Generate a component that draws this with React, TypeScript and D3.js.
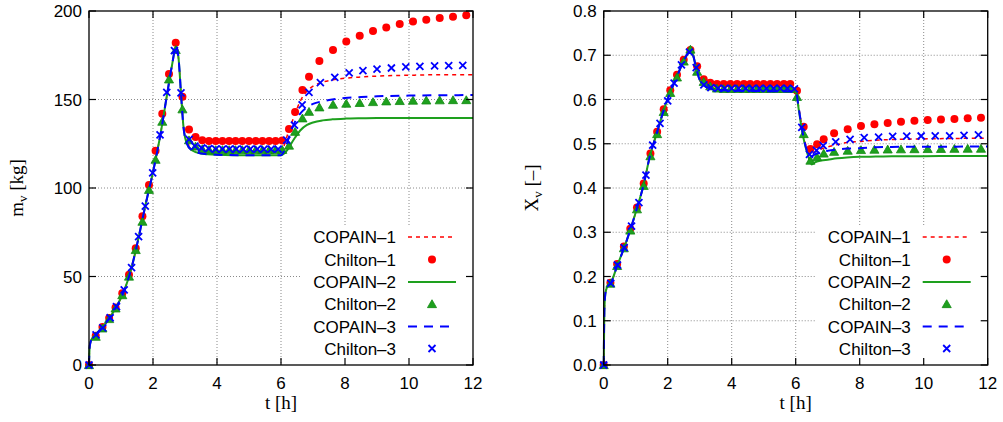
import React from 'react';
import * as d3 from 'd3';

// ---------- tick labels ----------
const xTicks = [0, 2, 4, 6, 8, 10, 12];
const leftYTicks = [0, 50, 100, 150, 200];
const rightYTicks = [0, 0.1, 0.2, 0.3, 0.4, 0.5, 0.6, 0.7, 0.8];
const seriesNames = ['COPAIN–1', 'Chilton–1', 'COPAIN–2', 'Chilton–2', 'COPAIN–3', 'Chilton–3'];

// ---------- left panel: m_v [kg] ----------
const copainT_L = [0, 0.02, 0.05, 0.1, 0.22, 0.43, 0.66, 0.86, 1.1, 1.33, 1.55, 1.76, 2.0, 2.24, 2.45, 2.6, 2.72, 2.8, 2.88, 2.95, 3.05, 3.2, 3.5, 4.0, 5.0, 6.0, 6.1, 6.2, 6.3, 6.44, 6.6, 6.8, 7.0, 7.3, 7.6, 8.0, 8.5, 9.0, 10.0, 11.0, 12.0];
const copain1_L = [0, 10, 13, 15, 17.5, 21.5, 27, 33, 42, 55, 72, 90, 109, 131, 154, 170, 180, 173, 152, 135, 126.5, 123, 121, 120.5, 120.3, 120.3, 124, 130, 135, 142, 149, 154.5, 157.5, 159.8, 161, 162, 162.7, 163.2, 163.7, 164, 164];
const copain2_L = [0, 10, 13, 15, 17.5, 21.5, 27, 33, 42, 55, 72, 90, 109, 131, 154, 170, 180, 173, 152, 135, 125.5, 121.5, 119.5, 118.8, 118.5, 118.5, 119.5, 121.5, 124.5, 128.5, 132.5, 135.5, 137, 138.2, 138.8, 139.2, 139.4, 139.5, 139.6, 139.6, 139.6];
const copain3_L = [0, 10, 13, 15, 17.5, 21.5, 27, 33, 42, 55, 72, 90, 109, 131, 154, 170, 180, 173, 152, 135, 125.5, 121.5, 119.5, 118.8, 118.5, 118.5, 121, 126, 131.5, 137.5, 142, 145.5, 147.5, 149, 150, 150.9, 151.4, 151.8, 152.2, 152.4, 152.5];

const chiltonT12_L = [0, 0.21, 0.42, 0.63, 0.83, 1.04, 1.25, 1.46, 1.67, 1.875, 2.08, 2.29, 2.5, 2.71, 2.92, 3.125, 3.33, 3.54, 3.75, 3.96, 4.17, 4.38, 4.58, 4.79, 5.0, 5.21, 5.42, 5.63, 5.83, 6.04, 6.25, 6.44, 6.67, 6.875, 7.2, 7.625, 8.04, 8.46, 8.875, 9.29, 9.71, 10.125, 10.54, 10.96, 11.375, 11.79];
const chilton1_L = [0, 16.5, 21.5, 26.5, 32.5, 40.5, 51, 66, 84, 101.7, 121, 142, 164.4, 182, 151.5, 133, 128.8, 127, 126.6, 126.5, 126.5, 126.5, 126.5, 126.5, 126.5, 126.5, 126.5, 126.5, 126.5, 126.8, 133.3, 143, 155.4, 162.9, 171.8, 178, 182.7, 186, 188.7, 190.7, 192.7, 194, 195.1, 196, 196.8, 197.6];
const chilton2_L = [0, 16, 20.7, 26, 32, 39.5, 50, 65, 81, 99, 116, 137.5, 161.4, 178, 144.5, 127, 123.5, 122, 121.6, 121.5, 121.5, 121.5, 121.5, 121.5, 121.5, 121.5, 121.5, 121.5, 121.5, 121.6, 124, 131.8, 139.4, 143.1, 145.6, 147.1, 147.7, 148.1, 148.6, 149, 149.2, 149.4, 149.5, 149.6, 149.7, 149.7];
const chiltonT3_L = [0, 0.22, 0.43, 0.66, 0.86, 1.1, 1.33, 1.55, 1.76, 1.99, 2.22, 2.43, 2.67, 2.875, 3.13, 3.31, 3.52, 3.74, 3.96, 4.17, 4.39, 4.6, 4.82, 5.04, 5.26, 5.47, 5.69, 5.91, 6.18, 6.42, 6.66, 6.875, 7.23, 7.68, 8.13, 8.56, 9.0, 9.45, 9.9, 10.34, 10.8, 11.24, 11.68];
const chilton3_L = [0, 17, 21, 26.7, 33, 42.4, 55, 72.5, 89.8, 108.5, 130, 154, 177.6, 153.8, 127.5, 123.7, 122.6, 122.2, 122, 122, 122, 122, 122, 122, 122, 122, 122, 122, 127, 135.5, 147, 154, 159.5, 162.5, 165.1, 166.3, 167.2, 167.8, 168.4, 168.7, 169, 169.1, 169.3];

// ---------- right panel: X_v [-] ----------
const copainT_R = [0, 0.02, 0.05, 0.1, 0.22, 0.43, 0.64, 0.82, 1.03, 1.24, 1.45, 1.66, 1.86, 2.07, 2.28, 2.49, 2.62, 2.7, 2.78, 2.88, 2.98, 3.1, 3.3, 3.6, 4.0, 5.0, 6.0, 6.1, 6.2, 6.3, 6.4, 6.5, 6.6, 6.8, 7.0, 7.3, 7.6, 8.0, 8.5, 9.0, 10.0, 11.0, 12.0];
const copain1_R = [0, 0.12, 0.16, 0.175, 0.185, 0.226, 0.265, 0.303, 0.352, 0.405, 0.474, 0.524, 0.572, 0.615, 0.65, 0.686, 0.703, 0.71, 0.703, 0.675, 0.648, 0.634, 0.626, 0.622, 0.62, 0.619, 0.619, 0.58, 0.536, 0.502, 0.483, 0.479, 0.481, 0.488, 0.493, 0.498, 0.503, 0.505, 0.508, 0.5095, 0.511, 0.512, 0.5125];
const copain2_R = [0, 0.12, 0.16, 0.175, 0.185, 0.226, 0.265, 0.303, 0.352, 0.405, 0.474, 0.524, 0.572, 0.615, 0.65, 0.686, 0.703, 0.71, 0.703, 0.675, 0.648, 0.634, 0.626, 0.622, 0.62, 0.619, 0.618, 0.575, 0.528, 0.495, 0.47, 0.453, 0.458, 0.462, 0.464, 0.467, 0.469, 0.4705, 0.471, 0.4715, 0.472, 0.4722, 0.4723];
const copain3_R = [0, 0.12, 0.16, 0.175, 0.185, 0.226, 0.265, 0.303, 0.352, 0.405, 0.474, 0.524, 0.572, 0.615, 0.65, 0.686, 0.703, 0.71, 0.703, 0.675, 0.648, 0.634, 0.626, 0.622, 0.62, 0.619, 0.618, 0.578, 0.532, 0.497, 0.477, 0.472, 0.476, 0.481, 0.484, 0.487, 0.489, 0.49, 0.492, 0.4928, 0.4933, 0.4935, 0.4937];

const chiltonT12_R = [0, 0.21, 0.42, 0.63, 0.83, 1.04, 1.25, 1.46, 1.67, 1.875, 2.08, 2.29, 2.5, 2.71, 2.92, 3.125, 3.33, 3.54, 3.75, 3.96, 4.17, 4.38, 4.58, 4.79, 5.0, 5.21, 5.42, 5.63, 5.83, 6.04, 6.25, 6.46, 6.67, 6.875, 7.2, 7.625, 8.04, 8.46, 8.875, 9.29, 9.71, 10.125, 10.54, 10.96, 11.375, 11.79];
const chilton1_R = [0, 0.186, 0.228, 0.268, 0.308, 0.356, 0.41, 0.478, 0.527, 0.578, 0.621, 0.656, 0.69, 0.712, 0.675, 0.646, 0.638, 0.635, 0.635, 0.635, 0.635, 0.635, 0.635, 0.635, 0.635, 0.635, 0.635, 0.635, 0.635, 0.62, 0.5386, 0.488, 0.499, 0.51, 0.5236, 0.5326, 0.54, 0.544, 0.547, 0.55, 0.552, 0.5537, 0.555, 0.556, 0.5575, 0.559];
const chilton2_R = [0, 0.184, 0.224, 0.264, 0.304, 0.352, 0.405, 0.472, 0.522, 0.572, 0.615, 0.65, 0.686, 0.713, 0.663, 0.64, 0.63, 0.625, 0.624, 0.624, 0.624, 0.624, 0.624, 0.624, 0.624, 0.624, 0.624, 0.624, 0.624, 0.606, 0.522, 0.462, 0.47, 0.478, 0.482, 0.4845, 0.486, 0.4868, 0.4873, 0.4877, 0.488, 0.4883, 0.4886, 0.4888, 0.489, 0.489];
const chiltonT3_R = [0, 0.22, 0.43, 0.64, 0.87, 1.1, 1.32, 1.53, 1.76, 2.0, 2.2, 2.43, 2.68, 2.89, 3.13, 3.35, 3.57, 3.78, 4.0, 4.22, 4.44, 4.65, 4.87, 5.09, 5.31, 5.52, 5.74, 5.96, 6.19, 6.43, 6.65, 6.86, 7.25, 7.7, 8.14, 8.59, 9.03, 9.47, 9.92, 10.36, 10.81, 11.26, 11.71];
const chilton3_R = [0, 0.1846, 0.226, 0.265, 0.314, 0.367, 0.429, 0.497, 0.546, 0.597, 0.637, 0.678, 0.707, 0.672, 0.633, 0.627, 0.625, 0.625, 0.625, 0.625, 0.625, 0.625, 0.625, 0.625, 0.625, 0.625, 0.625, 0.624, 0.537, 0.476, 0.485, 0.4957, 0.504, 0.51, 0.5137, 0.515, 0.5168, 0.517, 0.5175, 0.5178, 0.518, 0.519, 0.5198];

// ---------- styles ----------
const RED = '#ff0000';
const GREEN = '#1ea01e';
const BLUE = '#0000ff';
const SANS = '"Liberation Sans", Arial, Helvetica, sans-serif';
const SERIF = '"Liberation Serif", "Times New Roman", serif';

type Pt = [number, number];
const zip = (t: number[], v: number[]): Pt[] => t.map((tt, i) => [tt, v[i]]);

type Box = { x0: number; x1: number; y0: number; y1: number };

function Marker({ kind, x, y }: { kind: string; x: number; y: number }) {
  if (kind === 'circle') return <circle cx={x} cy={y} r={4} fill={RED} />;
  if (kind === 'tri') {
    const p = d3.symbol(d3.symbolTriangle, 36)();
    return <path d={p as string} transform={`translate(${x},${y + 1})`} fill={GREEN} stroke="#138a13" strokeWidth={0.8} />;
  }
  const a = 3.5;
  return (
    <path d={`M${x - a},${y - a}L${x + a},${y + a}M${x - a},${y + a}L${x + a},${y - a}`} stroke={BLUE} strokeWidth={1.8} fill="none" />
  );
}

function Panel(props: {
  box: Box;
  yDomain: [number, number];
  yTicks: number[];
  yFmt: (v: number) => string;
  lines: { data: Pt[]; color: string; dash?: string; width: number }[];
  markers: { data: Pt[]; kind: string }[];
  yLabelMain: string;
  yLabelRest: string;
}) {
  const { box, yDomain, yTicks, yFmt, lines, markers } = props;
  const x = d3.scaleLinear().domain([0, 12]).range([box.x0, box.x1]);
  const y = d3.scaleLinear().domain(yDomain).range([box.y1, box.y0]);
  const line = d3
    .line<Pt>()
    .x((d) => x(d[0]))
    .y((d) => y(d[1]))
    .curve(d3.curveMonotoneX);
  const tickLen = 7;
  const R = box.x1;
  const legendRows = [237, 259.5, 282, 304, 326.5, 348.5];
  const legendStyles = [
    { type: 'line', color: RED, dash: '4,4', width: 1.5 },
    { type: 'circle' },
    { type: 'line', color: GREEN, width: 2 },
    { type: 'tri' },
    { type: 'line', color: BLUE, dash: '9,7', width: 2 },
    { type: 'x' },
  ];
  const midY = (box.y0 + box.y1) / 2;
  const midX = (box.x0 + box.x1) / 2;
  return (
    <g>
      {/* grid */}
      {xTicks.slice(1, -1).map((t) => (
        <line key={'gx' + t} x1={x(t)} x2={x(t)} y1={box.y0} y2={box.y1} stroke="#8a8a8a" strokeWidth={1} strokeDasharray="1,2" />
      ))}
      {yTicks.slice(1, -1).map((t) => (
        <line key={'gy' + t} x1={box.x0} x2={box.x1} y1={y(t)} y2={y(t)} stroke="#8a8a8a" strokeWidth={1} strokeDasharray="1,2" />
      ))}
      {/* legend background */}
      <rect x={R - 172} y={226} width={172} height={box.y1 - 226} fill="#fff" />
      {/* series in plotting order */}
      {[0, 1, 2].map((i) => (
        <g key={'s' + i}>
          <path d={line(lines[i].data) as string} fill="none" stroke={lines[i].color} strokeWidth={lines[i].width} strokeDasharray={lines[i].dash} />
          {markers[i].data.map((d, j) => (
            <Marker key={j} kind={markers[i].kind} x={x(d[0])} y={y(d[1])} />
          ))}
        </g>
      ))}
      {/* frame */}
      <rect x={box.x0} y={box.y0} width={box.x1 - box.x0} height={box.y1 - box.y0} fill="none" stroke="#000" strokeWidth={1.3} />
      {xTicks.map((t) => (
        <g key={'xt' + t}>
          <line x1={x(t)} x2={x(t)} y1={box.y1} y2={box.y1 - tickLen} stroke="#000" strokeWidth={1.2} />
          <line x1={x(t)} x2={x(t)} y1={box.y0} y2={box.y0 + tickLen} stroke="#000" strokeWidth={1.2} />
          <text x={x(t)} y={box.y1 + 24} textAnchor="middle" fontFamily={SANS} fontSize={17} fill="#000">
            {t}
          </text>
        </g>
      ))}
      {yTicks.map((t) => (
        <g key={'yt' + t}>
          <line x1={box.x0} x2={box.x0 + tickLen} y1={y(t)} y2={y(t)} stroke="#000" strokeWidth={1.2} />
          <line x1={box.x1} x2={box.x1 - tickLen} y1={y(t)} y2={y(t)} stroke="#000" strokeWidth={1.2} />
          <text x={box.x0 - 7} y={y(t) + 6} textAnchor="end" fontFamily={SANS} fontSize={17} fill="#000">
            {yFmt(t)}
          </text>
        </g>
      ))}
      {/* axis labels */}
      <text x={midX} y={409} textAnchor="middle" fontFamily={SERIF} fontSize={19} fill="#000">
        t [h]
      </text>
      <text transform={`translate(${box.x0 - 66},${midY}) rotate(-90)`} textAnchor="middle" fontFamily={SERIF} fontSize={19} fill="#000">
        {props.yLabelMain}
        <tspan fontSize={13} dy={4}>v</tspan>
        <tspan dy={-4}>{' ' + props.yLabelRest}</tspan>
      </text>
      {/* legend */}
      {seriesNames.map((name, i) => {
        const ry = legendRows[i];
        const st: any = legendStyles[i];
        return (
          <g key={'lg' + i}>
            <text x={R - 77} y={ry + 6} textAnchor="end" fontFamily={SANS} fontSize={17} fill="#000">
              {name}
            </text>
            {st.type === 'line' ? (
              <line x1={R - 65} x2={R - 17} y1={ry} y2={ry} stroke={st.color} strokeWidth={st.width} strokeDasharray={st.dash} />
            ) : (
              <Marker kind={st.type} x={R - 41} y={ry} />
            )}
          </g>
        );
      })}
    </g>
  );
}

export default function App() {
  const leftLines = [
    { data: zip(copainT_L, copain1_L), color: RED, dash: '4,4', width: 1.5 },
    { data: zip(copainT_L, copain2_L), color: GREEN, width: 2 },
    { data: zip(copainT_L, copain3_L), color: BLUE, dash: '9,7', width: 2 },
  ];
  const leftMarkers = [
    { data: zip(chiltonT12_L, chilton1_L), kind: 'circle' },
    { data: zip(chiltonT12_L, chilton2_L), kind: 'tri' },
    { data: zip(chiltonT3_L, chilton3_L), kind: 'x' },
  ];
  const rightLines = [
    { data: zip(copainT_R, copain1_R), color: RED, dash: '4,4', width: 1.5 },
    { data: zip(copainT_R, copain2_R), color: GREEN, width: 2 },
    { data: zip(copainT_R, copain3_R), color: BLUE, dash: '9,7', width: 2 },
  ];
  const rightMarkers = [
    { data: zip(chiltonT12_R, chilton1_R), kind: 'circle' },
    { data: zip(chiltonT12_R, chilton2_R), kind: 'tri' },
    { data: zip(chiltonT3_R, chilton3_R), kind: 'x' },
  ];
  return (
    <svg width={1003} height={422} style={{ position: 'absolute', left: 0, top: 0, background: '#fff' }}>
      <rect width={1003} height={422} fill="#fff" />
      <Panel
        box={{ x0: 89, x1: 473, y0: 11, y1: 365 }}
        yDomain={[0, 200]}
        yTicks={leftYTicks}
        yFmt={(v) => String(v)}
        lines={leftLines}
        markers={leftMarkers}
        yLabelMain="m"
        yLabelRest="[kg]"
      />
      <Panel
        box={{ x0: 603.7, x1: 987.7, y0: 11, y1: 365 }}
        yDomain={[0, 0.8]}
        yTicks={rightYTicks}
        yFmt={(v) => d3.format('.1f')(v)}
        lines={rightLines}
        markers={rightMarkers}
        yLabelMain="X"
        yLabelRest="[–]"
      />
    </svg>
  );
}
